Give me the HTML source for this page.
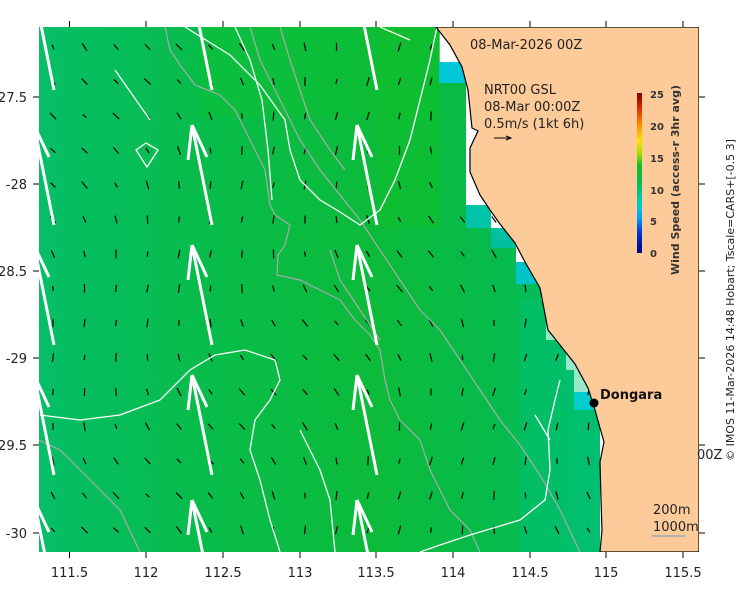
<!DOCTYPE html>
<html><head><meta charset="utf-8"><style>
body{margin:0;background:#fff;width:740px;height:592px;overflow:hidden;font-family:"DejaVu Sans","Liberation Sans",sans-serif}
svg text{font-family:"DejaVu Sans","Liberation Sans",sans-serif}
</style></head><body>
<svg id="s" width="740" height="592" xmlns="http://www.w3.org/2000/svg">
<defs>
<linearGradient id="g" x1="0" x2="1" y1="0" y2="0">
<stop offset="0" stop-color="#06be66"/><stop offset="0.3" stop-color="#08bc4a"/><stop offset="0.6" stop-color="#0cbb3a"/><stop offset="0.82" stop-color="#06bb4c"/><stop offset="1" stop-color="#02bf6c"/>
</linearGradient>
<linearGradient id="cb" x1="0" x2="0" y1="1" y2="0">
<stop offset="0" stop-color="#00007f"/><stop offset="0.12" stop-color="#0030d0"/><stop offset="0.22" stop-color="#00a0ff"/><stop offset="0.3" stop-color="#00d0d0"/><stop offset="0.42" stop-color="#00c060"/><stop offset="0.55" stop-color="#10c020"/><stop offset="0.62" stop-color="#a0e000"/><stop offset="0.7" stop-color="#ffe000"/><stop offset="0.8" stop-color="#ff9000"/><stop offset="0.9" stop-color="#e03000"/><stop offset="1" stop-color="#800000"/>
</linearGradient>
<clipPath id="c"><rect x="39" y="27" width="660" height="525"/></clipPath>
</defs>
<g clip-path="url(#c)">
<rect x="39" y="27" width="660" height="525" fill="#fff"/>
<path d="M39,27 H439 V62 H466 V205 H491 V228 H516 V262 H541 V300 H546 V340 H566 V370 H574 V392 H600 V552 H39Z" fill="url(#g)"/>
<rect x="200" y="27" width="240" height="90" fill="#10c030" opacity="0.4"/>
<rect x="380" y="27" width="60" height="200" fill="#10c028" opacity="0.5"/>
<rect x="520" y="300" width="80" height="252" fill="#00c078" opacity="0.4"/>
<rect x="439" y="62" width="27" height="21" fill="#00c8d8"/>
<rect x="466" y="205" width="25" height="23" fill="#00c4a8"/>
<rect x="491" y="228" width="25" height="20" fill="#00c0a0"/>
<rect x="516" y="262" width="25" height="22" fill="#00c4c8"/>
<rect x="574" y="392" width="25" height="18" fill="#00cccc"/>
<g id="arr" stroke="#000" stroke-width="1.2" fill="none"></g>
<g fill="none" stroke="#aaa" stroke-width="1.2">
<path d="M165,27 L170,50 L180,65 L190,78 L195,85 L220,95 L235,110 L245,130 L255,150 L265,170 L270,205 L275,215 L290,225 L285,245 L278,255 L277,275 L300,280 L320,290 L340,300 L355,320 L370,335 L380,350 L385,380 L390,400 L400,420 L420,440 L430,470 L440,490 L450,510 L470,530 L480,552"/>
<path d="M250,27 L260,60 L280,100 L300,140 L320,170 L340,195 L360,220 L380,250 L400,280 L420,310 L440,330 L460,360 L480,390 L500,420 L520,445 L540,475 L560,510 L580,552"/>
<path d="M39,440 L60,450 L80,470 L100,490 L120,510 L140,552"/>
<path d="M280,27 L290,60 L300,90 L310,120 L330,150 L345,170"/>
<path d="M330,250 L340,280 L360,310 L380,340"/>
</g>
<g fill="none" stroke="#fff" stroke-width="1.3">
<path d="M185,27 L230,55 L260,85 L285,120 L290,150 L300,180 L320,200 L340,212 L360,225 L380,210 L395,180 L410,140 L420,100 L430,60 L437,27"/>
<path d="M40,415 L80,420 L120,415 L160,400 L190,370 L215,355 L245,350 L275,360 L280,380 L270,400 L255,420 L250,450 L260,480 L270,520 L280,552"/>
<path d="M136,150 L146,143 L158,150 L147,167Z"/>
<path d="M235,27 L250,60 L262,100 L268,150 L272,200"/>
<path d="M115,70 L150,120"/>
<path d="M300,430 L320,470 L330,500 L335,552"/>
<path d="M380,27 L410,40"/>
<path d="M560,380 L555,400 L548,430 L550,470 L545,500 L520,520 L470,535 L440,545 L420,552"/>
<path d="M535,415 L550,440"/>
</g>
<g id="big" stroke="#fff" stroke-width="3" fill="none" stroke-linecap="butt"></g>
<path d="M436,27 L450,45 L462,67 L468,90 L472,128 L478,131 L470,148 L470,172 L480,195 L490,210 L500,224 L515,243 L525,262 L540,288 L548,330 L560,345 L575,364 L588,388 L595,410 L600,428 L604,442 L600,462 L601,500 L602,530 L600,552 L699,552 L699,27Z" fill="#fdcb9a" stroke="#000" stroke-width="1.2"/>
</g>
<g stroke="#000" stroke-width="1">
<line x1="69.5" y1="552" x2="69.5" y2="558"/><line x1="146" y1="552" x2="146" y2="558"/><line x1="223" y1="552" x2="223" y2="558"/><line x1="300" y1="552" x2="300" y2="558"/><line x1="376" y1="552" x2="376" y2="558"/><line x1="453" y1="552" x2="453" y2="558"/><line x1="530" y1="552" x2="530" y2="558"/><line x1="606" y1="552" x2="606" y2="558"/><line x1="683" y1="552" x2="683" y2="558"/>
<line x1="69.5" y1="21" x2="69.5" y2="27"/><line x1="146" y1="21" x2="146" y2="27"/><line x1="223" y1="21" x2="223" y2="27"/><line x1="300" y1="21" x2="300" y2="27"/><line x1="376" y1="21" x2="376" y2="27"/><line x1="453" y1="21" x2="453" y2="27"/><line x1="530" y1="21" x2="530" y2="27"/><line x1="606" y1="21" x2="606" y2="27"/><line x1="683" y1="21" x2="683" y2="27"/>
<line x1="33" y1="97" x2="39" y2="97"/><line x1="33" y1="184" x2="39" y2="184"/><line x1="33" y1="271" x2="39" y2="271"/><line x1="33" y1="358" x2="39" y2="358"/><line x1="33" y1="445" x2="39" y2="445"/><line x1="33" y1="533" x2="39" y2="533"/>
<line x1="699" y1="97" x2="705" y2="97"/><line x1="699" y1="184" x2="705" y2="184"/><line x1="699" y1="271" x2="705" y2="271"/><line x1="699" y1="358" x2="705" y2="358"/><line x1="699" y1="445" x2="705" y2="445"/><line x1="699" y1="533" x2="705" y2="533"/>
</g>
<g font-size="13" fill="#222" text-anchor="middle">
<text x="69.5" y="577">111.5</text><text x="146" y="577">112</text><text x="223" y="577">112.5</text><text x="300" y="577">113</text><text x="376" y="577">113.5</text><text x="453" y="577">114</text><text x="530" y="577">114.5</text><text x="606" y="577">115</text><text x="683" y="577">115.5</text>
</g>
<g font-size="13" fill="#222" text-anchor="end">
<text x="27" y="102">-27.5</text><text x="27" y="189">-28</text><text x="27" y="276">-28.5</text><text x="27" y="363">-29</text><text x="27" y="450">-29.5</text><text x="27" y="538">-30</text>
</g>
<g font-size="13" fill="#222">
<text x="470" y="49">08-Mar-2026 00Z</text>
<text x="484" y="94">NRT00 GSL</text>
<text x="484" y="111">08-Mar 00:00Z</text>
<text x="484" y="128">0.5m/s (1kt 6h)</text>
<text x="697" y="459">00Z</text>
<text x="653" y="514">200m</text>
<text x="653" y="531">1000m</text>
</g>
<line x1="494" y1="138" x2="510" y2="138" stroke="#000" stroke-width="1"/><path d="M506,136 L511,138 L506,140" fill="none" stroke="#000"/>
<line x1="652" y1="536" x2="685" y2="536" stroke="#9ab" stroke-width="1.5"/>
<circle cx="594" cy="403" r="4.5" fill="#000"/>
<text x="600" y="399" font-size="13" font-weight="bold" fill="#111">Dongara</text>
<rect x="637" y="93" width="5" height="160" fill="url(#cb)"/>
<g font-size="10" font-weight="bold" fill="#333">
<text x="650" y="98">25</text><text x="650" y="130">20</text><text x="650" y="162">15</text><text x="650" y="194">10</text><text x="650" y="225">5</text><text x="650" y="257">0</text>
</g>
<text transform="translate(679,180) rotate(-90)" text-anchor="middle" font-size="11" font-weight="bold" fill="#333">Wind Speed (access-r 3hr avg)</text>
<text transform="translate(734,300) rotate(-90)" text-anchor="middle" font-size="11" fill="#222">© IMOS 11-Mar-2026 14:48 Hobart; Tscale=CARS+[-0.5 3]</text>
</svg>
<script>
var ns="http://www.w3.org/2000/svg",a=document.getElementById("arr"),b=document.getElementById("big");
function ln(g,x1,y1,x2,y2){var l=document.createElementNS(ns,"line");l.setAttribute("x1",x1);l.setAttribute("y1",y1);l.setAttribute("x2",x2);l.setAttribute("y2",y2);g.appendChild(l);}
for(var j=0;j<16;j++){for(var i=0;i<21;i++){var x=53+i*31.5,y=47+j*34.5;
var t=(x-39)/600,ang=-1.2+0.5*Math.sin(j*0.5+i*0.4)-0.3*t;var L=2.5+2*Math.abs(Math.sin(i*1.3+j*0.9));
var dx=Math.cos(ang)*L,dy=-Math.sin(ang)*L;if(x>440&&y<200)continue;if(x>600)continue;ln(a,x-dx,y-dy,x+dx,y+dy);}}
var cols=[42,200,365],rows=[-10,125,245,375,500];
cols.forEach(function(cx){rows.forEach(function(ry){var hx=cx-8,hy=ry;ln(b,hx,hy,cx+12,ry+100);ln(b,hx,hy,hx-4,hy+35);ln(b,hx,hy,hx+15,hy+32);});});
</script>
</body></html>
